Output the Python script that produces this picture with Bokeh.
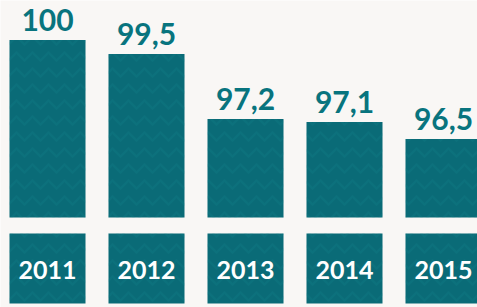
from bokeh.plotting import figure
from bokeh.models import ColumnDataSource
from bokeh.core.properties import value
from bokeh.embed import file_html
from bokeh.resources import INLINE

years = ["2011", "2012", "2013", "2014", "2015"]
values = [100.0, 99.5, 97.2, 97.1, 96.5]
value_labels = ["100", "99,5", "97,2", "97,1", "96,5"]

BG = "#f9f7f5"
TEAL = "#0a6b77"
LABEL = "#08747e"

BASE = 93.72          # value at bar foot
PX = 28.27            # pixels per unit

def y_at(px_from_top):
    return BASE + (217 - px_from_top) / PX

xs = list(range(len(years)))
src = ColumnDataSource(dict(x=xs, top=values, lab=value_labels, yr=years,
                            ylab=[y_at(269)] * len(years),
                            vlab=[v + 20 / PX for v in values]))

p = figure(width=477, height=307, output_backend="svg", toolbar_location=None,
           x_range=(-47 / 99, (477 - 47) / 99), y_range=(y_at(307), y_at(0)),
           min_border=0, background_fill_color=BG, border_fill_color=BG,
           outline_line_color=None)
p.axis.visible = False
p.grid.visible = False

w = 76 / 99
hatch = dict(hatch_pattern="horizontal_wave", hatch_color="#138592",
             hatch_alpha=0.2, hatch_scale=16, hatch_weight=2)
p.vbar(x="x", top="top", bottom=BASE, width=w, source=src,
       fill_color=TEAL, line_color=None, **hatch)
p.vbar(x="x", top=y_at(233), bottom=y_at(303), width=w, source=src,
       fill_color=TEAL, line_color=None, **hatch)

p.text(x="x", y="vlab", text="lab", source=src,
       text_align="center", text_baseline="alphabetic",
       text_font=value("Lato"), text_font_style="bold",
       text_font_size="30px", text_color=LABEL)
p.text(x="x", y="ylab", text="yr", source=src,
       text_align="center", text_baseline="middle",
       text_font=value("Lato"), text_font_style="bold",
       text_font_size="25px", text_color="white")

open("out.html", "w").write(file_html(p, INLINE))
